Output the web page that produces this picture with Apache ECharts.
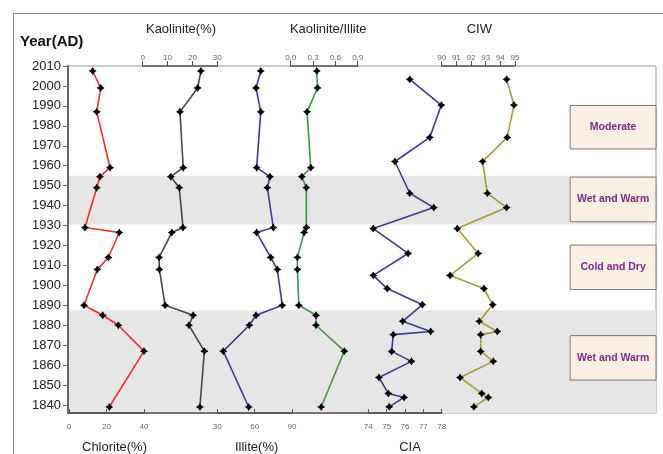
<!DOCTYPE html>
<html>
<head>
<meta charset="UTF-8">
<title>Clay minerals and weathering indices</title>
<script src="https://cdn.jsdelivr.net/npm/echarts@6/dist/echarts.min.js"></script>
<style>
  html, body { margin: 0; padding: 0; background: #fff; }
  #chart { width: 663px; height: 454px; }
</style>
</head>
<body>
<div id="chart"></div>
<script>
  // sampling years (clay minerals) and values
  var clayYears = [2007.5, 1999, 1987, 1959, 1954.5, 1949, 1929, 1926.5, 1914, 1908, 1890, 1885, 1880, 1867, 1839];
  var chlorite = [12.6, 16.9, 14.8, 21.9, 16.5, 14.8, 8.5, 26.8, 21, 15.1, 8, 18, 26.3, 40, 21.5];
  var kaolinite = [23.4, 22.1, 15.0, 16.3, 11.3, 14.7, 16.2, 11.7, 6.6, 6.7, 9.0, 20.3, 18.6, 24.8, 23.0];
  var illite = [64.9, 61.1, 64.9, 61.6, 72.3, 70.2, 75, 61.6, 72.9, 78.2, 82.2, 61.1, 55.7, 34.8, 55.2];
  var kaoIllite = [0.35, 0.36, 0.22, 0.27, 0.15, 0.21, 0.21, 0.18, 0.09, 0.09, 0.11, 0.34, 0.34, 0.72, 0.41];

  // weathering indices
  var weathYears = [2003.3, 1990.4, 1974.2, 1962.1, 1946.2, 1939, 1928.5, 1916, 1905, 1898.4, 1890.3, 1882, 1876.9, 1875.3, 1866.9, 1861.9, 1853.8, 1845.8, 1843.8, 1839.1];
  var cia = [76.26, 77.98, 77.35, 75.45, 76.26, 77.57, 74.27, 76.17, 74.27, 75.03, 76.95, 75.87, 77.40, 75.36, 75.27, 76.35, 74.58, 75.09, 75.95, 75.14];
  var ciw = [94.43, 94.93, 94.47, 92.79, 93.11, 94.43, 91.06, 92.49, 90.57, 92.88, 93.48, 92.56, 93.79, 92.66, 92.66, 93.52, 91.25, 92.73, 93.18, 92.2];

  var yearTicks = [1840, 1850, 1860, 1870, 1880, 1890, 1900, 1910, 1920, 1930, 1940, 1950, 1960, 1970, 1980, 1990, 2000, 2010];
  var greyBands = [[1930.5, 1955], [1836, 1887.5]];
  var periods = [
    ['Moderate', 1968.4, 1990.2],
    ['Wet and Warm', 1931.9, 1954.3],
    ['Cold and Dry', 1897.9, 1920.2],
    ['Wet and Warm', 1852.5, 1874.8]
  ];

  var FONT = 'Arial, "Liberation Sans", sans-serif';
  var yMin = 1836, yMax = 2010;
  var star = 'path://M0,-5 L2,-2 L5,0 L2,2 L0,5 L-2,2 L-5,0 L-2,-2 Z';

  function pairs(vals, years) {
    return vals.map(function (v, i) { return [v, years[i]]; });
  }

  // one small grid per proxy, all sharing the year scale
  var panels = [
    { name: 'Chlorite(%)', left: 69, width: 75, min: 0, max: 40, interval: 20, pos: 'bottom', color: '#ff2a2a', shift: 16, data: pairs(chlorite, clayYears) },
    { name: 'Kaolinite(%)', left: 142.7, width: 74.6, min: 0, max: 30, interval: 10, pos: 'top', color: '#3d4b4b', shift: 2, data: pairs(kaolinite, clayYears) },
    { name: 'Illite(%)', left: 217.3, width: 74.7, min: 30, max: 90, interval: 30, pos: 'bottom', color: '#3a3a9c', shift: 4, data: pairs(illite, clayYears) },
    { name: 'Kaolinite/Illite', left: 290.7, width: 67, min: 0, max: 0.9, interval: 0.3, pos: 'top', color: '#3f9a3f', shift: 8, data: pairs(kaoIllite, clayYears), fmt: function (v) { return v.toFixed(1); } },
    { name: 'CIA', left: 368.3, width: 73.4, min: 74, max: 78, interval: 1, pos: 'bottom', color: '#3a3a9c', shift: 10, data: pairs(cia, weathYears) },
    { name: 'CIW', left: 441.7, width: 73.3, min: 90, max: 95, interval: 1, pos: 'top', color: '#a59d35', shift: 2, data: pairs(ciw, weathYears) }
  ];

  var grids = [{ left: 68, right: 7, top: 66, height: 347, show: true, borderColor: '#999', borderWidth: 1, outerBoundsMode: 'none' }];
  var xAxes = [{ gridIndex: 0, type: 'value', min: 0, max: 1, show: false }];
  var yAxes = [{
    gridIndex: 0, type: 'value', min: yMin, max: yMax, z: 10,
    axisLine: { show: true, lineStyle: { color: '#666', width: 2 } },
    axisTick: { show: true, customValues: yearTicks, length: 5, lineStyle: { color: '#666' } },
    axisLabel: { customValues: yearTicks, color: '#222', fontSize: 13, fontFamily: FONT, margin: 7, formatter: function (v) { return String(v); } },
    splitLine: { show: false }
  }];
  var series = [{
    type: 'line', xAxisIndex: 0, yAxisIndex: 0, data: [], z: 1,
    markArea: {
      silent: true,
      itemStyle: { color: '#e6e6e6' },
      data: greyBands.map(function (b) { return [{ yAxis: b[0] }, { yAxis: b[1] }]; })
    }
  }, {
    type: 'line', xAxisIndex: 0, yAxisIndex: 0, data: [], z: 2,
    markArea: {
      silent: true,
      itemStyle: { color: '#f9efe2', borderColor: '#7a7a7a', borderWidth: 1 },
      label: { show: true, position: 'inside', color: '#7a2a80', fontWeight: 'bold', fontSize: 10.5, fontFamily: FONT },
      data: periods.map(function (p) { return [{ name: p[0], yAxis: p[1], xAxis: 0.854 }, { yAxis: p[2], xAxis: 1 }]; })
    }
  }];

  panels.forEach(function (p, i) {
    var gi = i + 1;
    var isTop = p.pos === 'top';
    grids.push({ left: p.left, width: p.width, top: 66, height: 347, outerBoundsMode: 'none' });
    xAxes.push({
      gridIndex: gi, type: 'value', position: p.pos, min: p.min, max: p.max, interval: p.interval, z: 10,
      name: p.name, nameLocation: 'middle', nameGap: isTop ? 30 : 28,
      nameTextStyle: { color: '#222', fontSize: 13, fontFamily: FONT, padding: [0, 0, 0, p.shift] },
      axisLine: { show: true, lineStyle: { color: '#555', width: 1.5 } },
      axisTick: { show: true, inside: !isTop, length: isTop ? 5 : 4, lineStyle: { color: '#555' } },
      axisLabel: { color: '#666', fontSize: 8, fontFamily: FONT, margin: isTop ? 4 : 10, formatter: p.fmt },
      splitLine: { show: false }
    });
    yAxes.push({ gridIndex: gi, type: 'value', min: yMin, max: yMax, show: false });
    series.push({
      type: 'line', xAxisIndex: gi, yAxisIndex: gi, data: p.data, z: 5, clip: false,
      lineStyle: { color: p.color, width: 1.6 },
      symbol: star, symbolSize: 8,
      itemStyle: { color: '#000' },
      animation: false
    });
  });

  // plain base line under all panels, so the bottom reads as one axis
  var baseIdx = grids.length;
  grids.push({ left: 68, width: 373.7, top: 66, height: 347, outerBoundsMode: 'none' });
  xAxes.push({
    gridIndex: baseIdx, type: 'value', position: 'bottom', min: 0, max: 1, z: 9,
    axisLine: { show: true, lineStyle: { color: '#555', width: 1.5 } },
    axisTick: { show: false }, axisLabel: { show: false }, splitLine: { show: false }
  });
  yAxes.push({ gridIndex: baseIdx, type: 'value', min: yMin, max: yMax, show: false });

  var chart = echarts.init(document.getElementById('chart'), null, { renderer: 'canvas' });
  chart.setOption({
    backgroundColor: '#fff',
    animation: false,
    title: { text: 'Year(AD)', left: 20, top: 34, padding: 0, textStyle: { fontSize: 15, fontWeight: 'bold', color: '#111', fontFamily: FONT } },
    graphic: [{
      type: 'rect', left: 13, top: 13, silent: true, z: -1,
      shape: { width: 700, height: 500 },
      style: { fill: 'transparent', stroke: '#888', lineWidth: 1 }
    }],
    grid: grids,
    xAxis: xAxes,
    yAxis: yAxes,
    series: series
  });
</script>
</body>
</html>
